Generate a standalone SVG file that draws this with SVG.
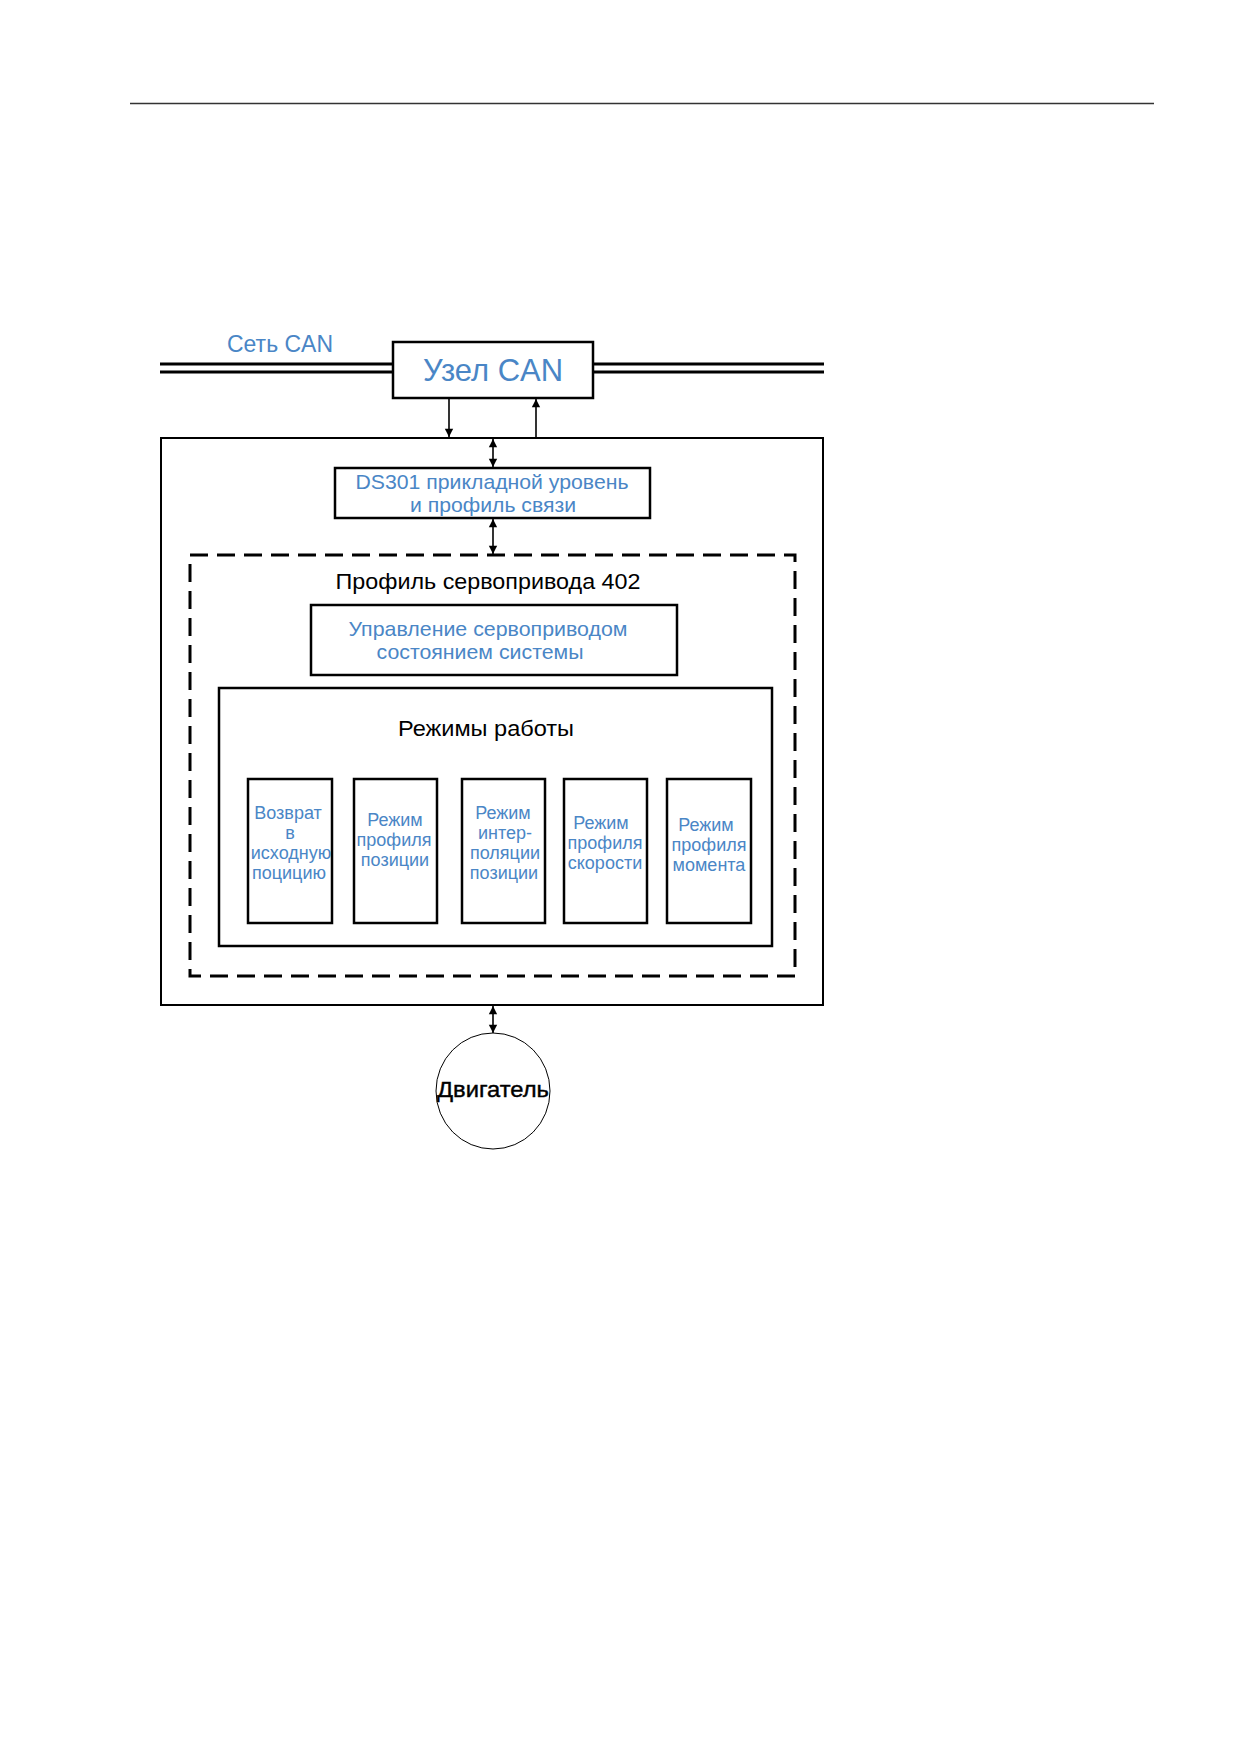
<svg xmlns="http://www.w3.org/2000/svg" width="1239" height="1752" viewBox="0 0 1239 1752">
<style>
.box{fill:#fff;stroke:#000;stroke-width:2.5}
.thin{fill:none;stroke:#000;stroke-width:2}
.conn{fill:none;stroke:#000;stroke-width:1.6}
.blue{font-family:"Liberation Sans",Arial,sans-serif;fill:#4a86c6;text-anchor:middle}
.black{font-family:"Liberation Sans",Arial,sans-serif;fill:#000;text-anchor:middle}
.mode{font-size:18px}
</style>
<defs>
<marker id="ah" viewBox="0 0 10 12" refX="10" refY="6" markerWidth="11" markerHeight="10" markerUnits="userSpaceOnUse" orient="auto-start-reverse">
<path d="M0,1 L10,6 L0,11 Z" fill="#000"/>
</marker>
</defs>
<rect width="1239" height="1752" fill="#fff"/>
<line x1="130" y1="103.5" x2="1154" y2="103.5" stroke="#333" stroke-width="1.5"/>

<g id="can-network">
<line x1="160" y1="364" x2="393" y2="364" stroke="#000" stroke-width="3"/>
<line x1="160" y1="372" x2="393" y2="372" stroke="#000" stroke-width="3"/>
<line x1="593" y1="364" x2="824" y2="364" stroke="#000" stroke-width="3"/>
<line x1="593" y1="372" x2="824" y2="372" stroke="#000" stroke-width="3"/>
<text class="blue" x="280" y="352" font-size="23" textLength="106" lengthAdjust="spacingAndGlyphs">Сеть CAN</text>
</g>

<g id="can-node">
<rect class="box" x="393" y="342" width="200" height="56"/>
<text class="blue" x="493" y="381" font-size="32" textLength="140" lengthAdjust="spacingAndGlyphs">Узел CAN</text>
</g>

<g id="outer">
<rect class="thin" x="161" y="438" width="662" height="567"/>
</g>

<g id="ds301">
<rect class="box" x="335" y="468" width="315" height="50" stroke-width="3"/>
<text class="blue" x="492" y="489" font-size="21" textLength="273" lengthAdjust="spacingAndGlyphs">DS301 прикладной уровень</text>
<text class="blue" x="493" y="512" font-size="21" textLength="166" lengthAdjust="spacingAndGlyphs">и профиль связи</text>
</g>

<g id="servo-profile">
<rect x="190" y="555" width="605" height="421" fill="none" stroke="#000" stroke-width="3" stroke-dasharray="18 9"/>
<text class="black" x="488" y="589" font-size="22" textLength="305" lengthAdjust="spacingAndGlyphs">Профиль сервопривода 402</text>
</g>

<g id="state-control">
<rect class="box" x="311" y="605" width="366" height="70"/>
<text class="blue" x="488" y="636" font-size="21" textLength="279" lengthAdjust="spacingAndGlyphs">Управление сервоприводом</text>
<text class="blue" x="480" y="659" font-size="21" textLength="207" lengthAdjust="spacingAndGlyphs">состоянием системы</text>
</g>

<g id="modes">
<rect class="box" x="219" y="688" width="553" height="258"/>
<text class="black" x="486" y="736" font-size="22" textLength="176" lengthAdjust="spacingAndGlyphs">Режимы работы</text>
</g>

<g id="mode-homing">
<rect class="box" x="248" y="779" width="84" height="144" stroke-width="3"/>
<text class="blue mode"><tspan x="288" y="819">Возврат</tspan><tspan x="290" y="839">в</tspan><tspan x="291" y="859">исходную</tspan><tspan x="289" y="879">поцицию</tspan></text>
</g>

<g id="mode-pp">
<rect class="box" x="354" y="779" width="83" height="144" stroke-width="3"/>
<text class="blue mode"><tspan x="395" y="826">Режим</tspan><tspan x="394" y="846">профиля</tspan><tspan x="395" y="866">позиции</tspan></text>
</g>

<g id="mode-ip">
<rect class="box" x="462" y="779" width="83" height="144" stroke-width="3"/>
<text class="blue mode"><tspan x="503" y="819">Режим</tspan><tspan x="505" y="839">интер-</tspan><tspan x="505" y="859">поляции</tspan><tspan x="504" y="879">позиции</tspan></text>
</g>

<g id="mode-pv">
<rect class="box" x="564" y="779" width="83" height="144" stroke-width="3"/>
<text class="blue mode"><tspan x="601" y="829">Режим</tspan><tspan x="605" y="849">профиля</tspan><tspan x="605" y="869">скорости</tspan></text>
</g>

<g id="mode-pt">
<rect class="box" x="667" y="779" width="84" height="144" stroke-width="3"/>
<text class="blue mode"><tspan x="706" y="831">Режим</tspan><tspan x="709" y="851">профиля</tspan><tspan x="709" y="871">момента</tspan></text>
</g>

<g id="motor">
<ellipse cx="493" cy="1091" rx="57" ry="58" fill="#fff" stroke="#000" stroke-width="1"/>
<text class="black" x="493" y="1097" font-size="22" stroke="#000" stroke-width="0.4" textLength="112" lengthAdjust="spacingAndGlyphs">Двигатель</text>
</g>

<g id="connectors">
<line class="conn" x1="449" y1="398" x2="449" y2="437" marker-end="url(#ah)"/>
<line class="conn" x1="536" y1="437" x2="536" y2="399" marker-end="url(#ah)"/>
<line class="conn" x1="493" y1="439" x2="493" y2="467" marker-start="url(#ah)" marker-end="url(#ah)"/>
<line class="conn" x1="493" y1="519" x2="493" y2="554" marker-start="url(#ah)" marker-end="url(#ah)"/>
<line class="conn" x1="493" y1="1006" x2="493" y2="1033" marker-start="url(#ah)" marker-end="url(#ah)"/>
</g>
</svg>
